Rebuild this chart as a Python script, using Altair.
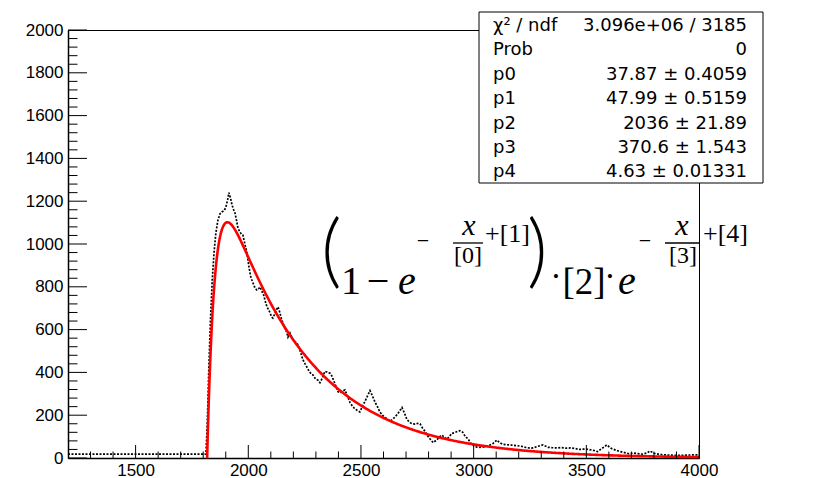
import numpy as np
import pandas as pd
import altair as alt

# ---- histogram contents (x, counts) ----
hist_x = [1200, 1300, 1400, 1500, 1600, 1700, 1812, 1818, 1825, 1832, 1840, 1848, 1856, 1865,
          1874, 1883, 1892, 1900, 1908, 1914, 1921, 1928, 1935, 1941, 1948, 1954, 1963, 1970,
          1976, 1985, 1994, 2002, 2010, 2016, 2024, 2030, 2038, 2045, 2052, 2060, 2068, 2076,
          2083, 2090, 2096, 2103, 2109, 2116, 2124, 2132, 2140, 2147, 2154, 2162, 2170, 2176,
          2185, 2195, 2205, 2216, 2222, 2229, 2236, 2243, 2252, 2260, 2270, 2280, 2287, 2298,
          2309, 2318, 2328, 2340, 2349, 2356, 2362, 2370, 2376, 2387, 2398, 2407, 2418, 2429,
          2440, 2451, 2462, 2473, 2484, 2495, 2506, 2518, 2529, 2540, 2551, 2562, 2573, 2584,
          2595, 2606, 2618, 2629, 2640, 2651, 2662, 2672, 2682, 2693, 2704, 2715, 2726, 2740,
          2752, 2762, 2773, 2784, 2795, 2806, 2820, 2837, 2850, 2859, 2870, 2881, 2892, 2903,
          2915, 2928, 2939, 2952, 2963, 2975, 2986, 3006, 3028, 3050, 3070, 3086, 3103, 3115,
          3130, 3150, 3170, 3190, 3210, 3230, 3250, 3263, 3285, 3307, 3330, 3350, 3370, 3390,
          3410, 3430, 3450, 3470, 3490, 3510, 3530, 3550, 3570, 3591, 3610, 3630, 3650, 3670,
          3690, 3710, 3730, 3750, 3770, 3782, 3800, 3820, 3840, 3860, 3880, 3900, 3920, 3940,
          3960, 3980, 4000]
hist_y = [18, 18, 18, 18, 18, 18, 18, 160, 420, 640, 830, 960, 1050, 1110,
          1140, 1150, 1155, 1170, 1205, 1240, 1215, 1182, 1160, 1145, 1110, 1075, 1056, 1045,
          1042, 1000, 958, 900, 850, 832, 810, 794, 785, 790, 799, 780, 762, 730,
          706, 692, 680, 660, 654, 670, 690, 706, 680, 650, 631, 605, 590, 565,
          584, 560, 545, 537, 525, 505, 480, 458, 440, 425, 405, 392, 388, 370,
          364, 352, 372, 405, 402, 398, 397, 385, 370, 340, 310, 304, 312, 318,
          290, 260, 242, 230, 222, 215, 240, 265, 290, 315, 290, 262, 240, 215,
          200, 190, 182, 172, 180, 192, 205, 220, 236, 210, 180, 168, 160, 158,
          162, 160, 140, 125, 105, 90, 72, 85, 100, 107, 98, 88, 100, 115,
          118, 124, 128, 120, 100, 90, 70, 52, 50, 52, 60, 68, 84, 72,
          64, 62, 60, 58, 55, 50, 46, 47, 55, 61, 50, 48, 47, 49,
          46, 47, 44, 40, 42, 40, 36, 30, 45, 61, 45, 37, 30, 25,
          20, 23, 20, 18, 24, 33, 22, 18, 15, 14, 13, 12, 12, 13,
          14, 15, 14]

# ---- fit (stats box contents) ----
par_names = ["p0", "p1", "p2", "p3", "p4"]
par_vals = [37.87, 47.99, 2036, 370.6, 4.63]
par_errs = ["0.4059", "0.5159", "21.89", "1.543", "0.01331"]
chi2_text = "3.096e+06 / 3185"
prob_text = "0"

# axis ticks
x_major = list(range(1500, 4001, 500))
x_minor = [v for v in range(1300, 4000, 100) if v % 500]
y_major = list(range(0, 2001, 200))
y_minor = [v for v in range(40, 2000, 40) if v % 200]

X_RANGE = [1200, 4000]
Y_RANGE = [0, 2000]

# frame geometry (pixels)
L, T = 68, 30
W, H = 631, 428


def fit_func(x, p):
    return (1 - np.exp(-x / p[0] + p[1])) * p[2] * np.exp(-x / p[3] + p[4])


x_start = par_vals[0] * par_vals[1]          # where the fit crosses zero
fit_x = np.concatenate([[x_start], x_start + np.geomspace(1e-3, 60, 120),
                        np.linspace(x_start + 61, 4000, 500)])
fit_y = np.clip(fit_func(fit_x, par_vals), 0, None)

hist_df = pd.DataFrame({"x": hist_x, "y": hist_y})
fit_df = pd.DataFrame({"x": fit_x, "y": fit_y})

xs = alt.Scale(domain=X_RANGE, nice=False, zero=False)
ys = alt.Scale(domain=Y_RANGE, nice=False)

AX_FONT = "Liberation Sans"
x_axis = alt.Axis(values=x_major, format="d", ticks=False, grid=False, title=None,
                  labelFont=AX_FONT, labelFontSize=17, labelColor="black", labelPadding=4,
                  labelFlush=False, labelOverlap=False, domainColor="black", domainWidth=1.5)
y_axis = alt.Axis(values=y_major, format="d", ticks=False, grid=False, title=None,
                  labelFont=AX_FONT, labelFontSize=17, labelColor="black", labelPadding=5,
                  labelOverlap=False, domainColor="black", domainWidth=1.5)


def X(field):
    return alt.X(field, type="quantitative", scale=xs, axis=x_axis)


def Y(field):
    return alt.Y(field, type="quantitative", scale=ys, axis=y_axis)


hist = alt.Chart(hist_df).mark_line(color="black", strokeWidth=1.7, strokeDash=[2, 1.5]).encode(
    x=X("x"), y=Y("y"))

fit = alt.Chart(fit_df).mark_line(color="#ff0000", strokeWidth=2.6).encode(x=X("x"), y=Y("y"))

# inner tick marks, ROOT style
xt_major = alt.Chart(pd.DataFrame({"v": x_major})).mark_rule(color="black", strokeWidth=1).encode(
    x=X("v"), y=alt.value(H), y2=alt.value(H - 13))
xt_minor = alt.Chart(pd.DataFrame({"v": x_minor})).mark_rule(color="black", strokeWidth=1).encode(
    x=X("v"), y=alt.value(H), y2=alt.value(H - 6.5))
yt_major = alt.Chart(pd.DataFrame({"v": y_major})).mark_rule(color="black", strokeWidth=1).encode(
    y=Y("v"), x=alt.value(0), x2=alt.value(19))
yt_minor = alt.Chart(pd.DataFrame({"v": y_minor})).mark_rule(color="black", strokeWidth=1).encode(
    y=Y("v"), x=alt.value(0), x2=alt.value(9.5))

one = pd.DataFrame({"k": [0]})

# ---- stats box ----
BOX = dict(x0=479, x1=763, y0=12, y1=183)
box = alt.Chart(one).mark_rect(fill="white", stroke="black", strokeWidth=1).encode(
    x=alt.value(BOX["x0"] - L), x2=alt.value(BOX["x1"] - L),
    y=alt.value(BOX["y0"] - T), y2=alt.value(BOX["y1"] - T))

stat_names = ["χ² / ndf", "Prob"] + par_names
stat_vals = [chi2_text, prob_text] + [f"{v:g} ± {e}" for v, e in zip(par_vals, par_errs)]
stats_df = pd.DataFrame({"row": range(len(stat_names)), "name": stat_names, "val": stat_vals})
ROW0, ROWH = 31, 24.4
STAT_FONT = "DejaVu Sans"
stats_base = alt.Chart(stats_df).transform_calculate(
    py=f"{ROW0 - T} + datum.row * {ROWH}")
stat_left = stats_base.mark_text(align="left", baseline="alphabetic", font=STAT_FONT,
                                 fontSize=18, color="black").encode(
    x=alt.value(493 - L), y=alt.Y("py:Q", scale=None), text="name:N")
stat_right = stats_base.mark_text(align="right", baseline="alphabetic", font=STAT_FONT,
                                  fontSize=18, color="black").encode(
    x=alt.value(747 - L), y=alt.Y("py:Q", scale=None), text="val:N")

# ---- fit function written out ----
F_FONT = "Liberation Serif"
PAREN_FONT = "Lato"


def txt(s, ax, ay, size, italic=False, align="left", font=F_FONT, weight="normal"):
    return alt.Chart(one).mark_text(text=s, font=font, fontSize=size, fontWeight=weight,
                                    fontStyle="italic" if italic else "normal",
                                    align=align, baseline="alphabetic", color="black").encode(
        x=alt.value(ax - L), y=alt.value(ay - T))


def bar(ax0, ax1, ay):
    return alt.Chart(one).mark_rule(color="black", strokeWidth=1.3).encode(
        x=alt.value(ax0 - L), x2=alt.value(ax1 - L), y=alt.value(ay - T))


BASE = 294
formula = [
    txt("(", 321, 278, 80, font=PAREN_FONT, weight=300),
    txt("1", 341, BASE, 40),
    txt("−", 378, BASE, 40, align="center"),
    txt("e", 398, BASE, 40, italic=True),
    txt("−", 423, 248, 22, align="center"),
    txt("x", 469, 235, 30, italic=True, align="center"),
    bar(453, 483, 243),
    txt("[0]", 468, 263, 24, align="center"),
    txt("+[1]", 485, 242, 26),
    txt(")", 527, 278, 80, font=PAREN_FONT, weight=300),
    txt("·", 556, 287, 34, align="center"),
    txt("[2]", 584, BASE, 37, align="center"),
    txt("·", 610, 287, 34, align="center"),
    txt("e", 618, BASE, 40, italic=True),
    txt("−", 645, 248, 22, align="center"),
    txt("x", 682, 235, 30, italic=True, align="center"),
    bar(665, 700, 243),
    txt("[3]", 683, 263, 24, align="center"),
    txt("+[4]", 703, 242, 26),
]

chart = alt.layer(
    hist, fit, xt_major, xt_minor, yt_major, yt_minor, box, stat_left, stat_right, *formula
).properties(
    width=W, height=H, autosize=alt.AutoSizeParams(type="none"),
    padding={"left": L, "top": T, "right": 815 - L - W, "bottom": 478 - T - H},
    background="white"
).configure_view(stroke="black", strokeWidth=1)

chart.save("out.html", embed_options={"renderer": "svg", "actions": False})
